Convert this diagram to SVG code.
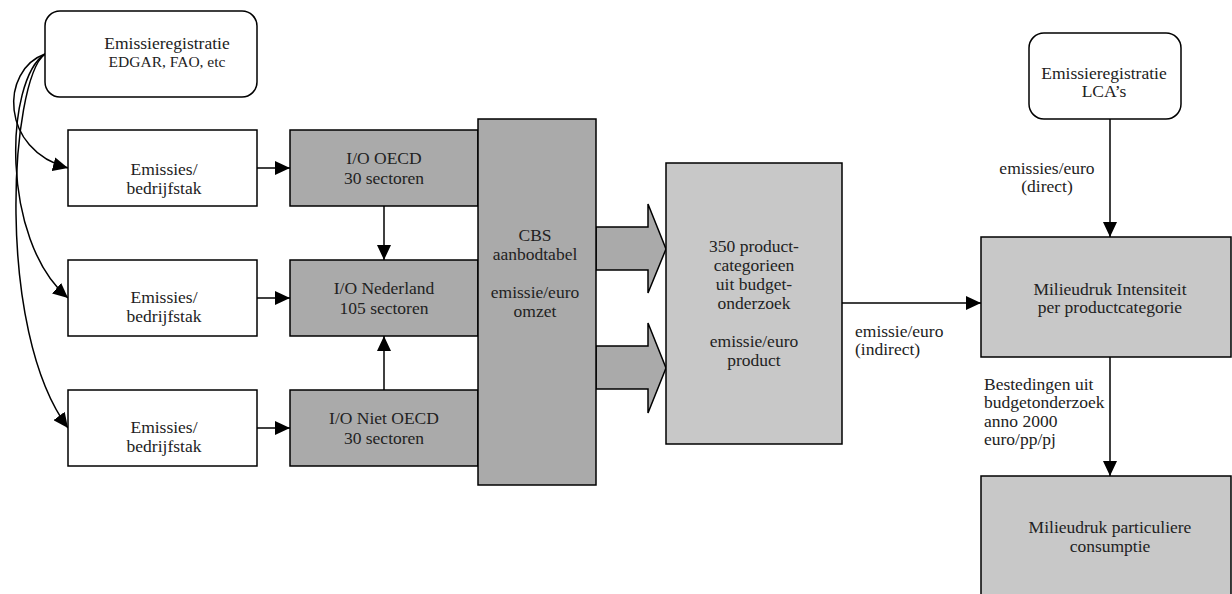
<svg xmlns="http://www.w3.org/2000/svg" width="1232" height="594" viewBox="0 0 1232 594">
<style>
.box{stroke:#000;stroke-width:1.5}
.w{fill:#fff}
.dk{fill:#aaaaaa}
.lt{fill:#c8c8c8}
.t{font-family:"Liberation Serif","Times New Roman",serif;font-size:17.5px;fill:#222}
.c{text-anchor:middle}
.s{font-size:15.5px}
.ln{fill:none;stroke:#000;stroke-width:1.5}
</style>
<defs>
<marker id="ah" markerUnits="userSpaceOnUse" markerWidth="15" markerHeight="14" refX="15" refY="7" orient="auto">
<path d="M0,0 L15,7 L0,14 z" fill="#000"/>
</marker>
</defs>

<g id="connectors">
<path class="ln" d="M45,54 C0,70 0,150 68,168" marker-end="url(#ah)"/>
<path class="ln" d="M45,54 C5,80 0,240 68,298" marker-end="url(#ah)"/>
<path class="ln" d="M45,54 C10,80 -5,330 68,428" marker-end="url(#ah)"/>
<path class="ln" d="M257,168 H290" marker-end="url(#ah)"/>
<path class="ln" d="M257,298 H290" marker-end="url(#ah)"/>
<path class="ln" d="M257,428 H290" marker-end="url(#ah)"/>
<path class="ln" d="M384,206 V260" marker-end="url(#ah)"/>
<path class="ln" d="M384,390 V336" marker-end="url(#ah)"/>
<path class="ln" d="M842,303 H981" marker-end="url(#ah)"/>
<path class="ln" d="M1110,119 V237" marker-end="url(#ah)"/>
<path class="ln" d="M1110,357 V476" marker-end="url(#ah)"/>
<polygon class="box dk" points="596,227 648,227 648,204 666,249 648,293 648,270 596,270"/>
<polygon class="box dk" points="596,346 648,346 648,323 666,368 648,413 648,389 596,389"/>
</g>

<g id="emissieregistratie-edgar">
<rect class="box w" x="45" y="11" width="212" height="86" rx="15"/>
<text class="t c" x="167" y="49">Emissieregistratie</text>
<text class="t c s" x="167" y="67">EDGAR, FAO, etc</text>
</g>

<g id="emissies-1">
<rect class="box w" x="68" y="130" width="189" height="76"/>
<text class="t c" x="164" y="175">Emissies/</text>
<text class="t c" x="164" y="194">bedrijfstak</text>
</g>
<g id="emissies-2">
<rect class="box w" x="68" y="260" width="189" height="76"/>
<text class="t c" x="164" y="303">Emissies/</text>
<text class="t c" x="164" y="322">bedrijfstak</text>
</g>
<g id="emissies-3">
<rect class="box w" x="68" y="390" width="189" height="76"/>
<text class="t c" x="164" y="433">Emissies/</text>
<text class="t c" x="164" y="452">bedrijfstak</text>
</g>

<g id="io-oecd">
<rect class="box dk" x="290" y="130" width="188" height="76"/>
<text class="t c" x="384" y="164">I/O OECD</text>
<text class="t c" x="384" y="184">30 sectoren</text>
</g>
<g id="io-nederland">
<rect class="box dk" x="290" y="260" width="188" height="76"/>
<text class="t c" x="384" y="294">I/O Nederland</text>
<text class="t c" x="384" y="314">105 sectoren</text>
</g>
<g id="io-niet-oecd">
<rect class="box dk" x="290" y="390" width="188" height="76"/>
<text class="t c" x="384" y="424">I/O Niet OECD</text>
<text class="t c" x="384" y="444">30 sectoren</text>
</g>

<g id="cbs">
<rect class="box dk" x="478" y="119" width="118" height="366"/>
<text class="t c" x="535" y="241">CBS</text>
<text class="t c" x="535" y="260">aanbodtabel</text>
<text class="t c" x="535" y="298">emissie/euro</text>
<text class="t c" x="535" y="317">omzet</text>
</g>

<g id="productcategorieen">
<rect class="box lt" x="666" y="163" width="176" height="281"/>
<text class="t c" x="754" y="252">350 product-</text>
<text class="t c" x="754" y="271">categorieen</text>
<text class="t c" x="754" y="290">uit budget-</text>
<text class="t c" x="754" y="309">onderzoek</text>
<text class="t c" x="754" y="347">emissie/euro</text>
<text class="t c" x="754" y="366">product</text>
</g>

<g id="label-indirect">
<text class="t" x="855" y="337">emissie/euro</text>
<text class="t" x="855" y="355">(indirect)</text>
</g>

<g id="emissieregistratie-lca">
<rect class="box w" x="1029" y="33" width="152" height="86" rx="15"/>
<text class="t c" x="1104" y="79">Emissieregistratie</text>
<text class="t c" x="1104" y="97">LCA’s</text>
</g>

<g id="label-direct">
<text class="t c" x="1047" y="174">emissies/euro</text>
<text class="t c" x="1047" y="192">(direct)</text>
</g>

<g id="milieudruk-intensiteit">
<rect class="box lt" x="981" y="237" width="250" height="120"/>
<text class="t c" x="1110" y="295">Milieudruk Intensiteit</text>
<text class="t c" x="1110" y="313">per productcategorie</text>
</g>

<g id="label-bestedingen">
<text class="t" x="984" y="390">Bestedingen uit</text>
<text class="t" x="984" y="408">budgetonderzoek</text>
<text class="t" x="984" y="427">anno 2000</text>
<text class="t" x="984" y="445">euro/pp/pj</text>
</g>

<g id="milieudruk-consumptie">
<rect class="box lt" x="981" y="476" width="250" height="130"/>
<text class="t c" x="1110" y="533">Milieudruk particuliere</text>
<text class="t c" x="1110" y="552">consumptie</text>
</g>
</svg>
